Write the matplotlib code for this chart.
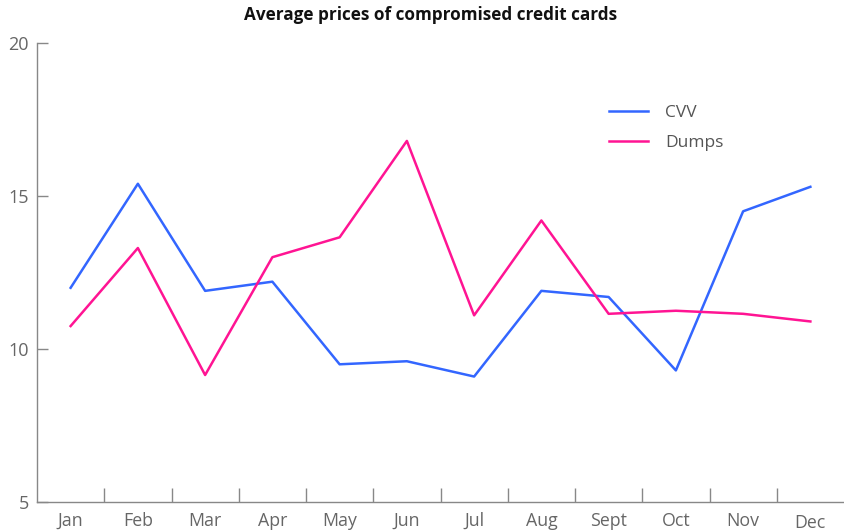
import matplotlib
matplotlib.use("Agg")
import matplotlib.pyplot as plt
import matplotlib.transforms as mtransforms
import numpy as np

months = ["Jan", "Feb", "Mar", "Apr", "May", "Jun", "Jul", "Aug", "Sept", "Oct", "Nov", "Dec"]
cvv = [12.0, 15.4, 11.9, 12.2, 9.5, 9.6, 9.1, 11.9, 11.7, 9.3, 14.5, 15.3]
dumps = [10.75, 13.3, 9.15, 13.0, 13.65, 16.8, 11.1, 14.2, 11.15, 11.25, 11.15, 10.9]
yticks = [5, 10, 15, 20]

plt.rcParams['font.family'] = ['Open Sans', 'DejaVu Sans']

fig = plt.figure(figsize=(8.44, 5.31), dpi=100)
ax = fig.add_axes([37/844, 1-502/531, 1-37/844, (502-43)/531])

x = np.arange(len(months))
ax.plot(x, cvv, color="#3366ff", lw=1.8, label="CVV")
ax.plot(x, dumps, color="#ff1493", lw=1.8, label="Dumps")

ax.set_xlim(-0.5, len(months)-0.5)
ax.set_ylim(5, 20)
ax.set_yticks(yticks)
ax.set_yticklabels([str(v) for v in yticks])

ax.set_xticks(x)
ax.set_xticklabels(months)
ax.set_xticks(np.arange(0.5, len(months)-1, 1), minor=True)
ax.tick_params(axis='x', which='major', length=0, pad=7, labelsize=12.8, labelcolor="#666666")
ax.tick_params(axis='x', which='minor', length=10, direction='in', color="#888888", width=1)
ax.tick_params(axis='y', length=8, direction='in', color="#888888", width=1, pad=6,
               labelsize=13, labelcolor="#666666")

# the "Dec" label sits slightly lower in the reference
dec_lbl = ax.get_xticklabels()[-1]
dec_lbl.set_transform(dec_lbl.get_transform() +
                      mtransforms.ScaledTranslation(0, -1.5/72, fig.dpi_scale_trans))

for s in ["top", "right"]:
    ax.spines[s].set_visible(False)
for s in ["left", "bottom"]:
    ax.spines[s].set_color("#888888")
    ax.spines[s].set_linewidth(1)

fig.text(431/844, 1-15/531, "Average prices of compromised credit cards", fontsize=12.3,
         fontweight="bold", color="#111111", ha="center", va="center")

leg = ax.legend(loc="upper left", bbox_to_anchor=(0.69, 0.9), frameon=False,
                fontsize=12.5, handlelength=2.2, handletextpad=1.0, labelspacing=0.8)
for t in leg.get_texts():
    t.set_color("#555555")

fig.savefig("out.png", dpi=100)
